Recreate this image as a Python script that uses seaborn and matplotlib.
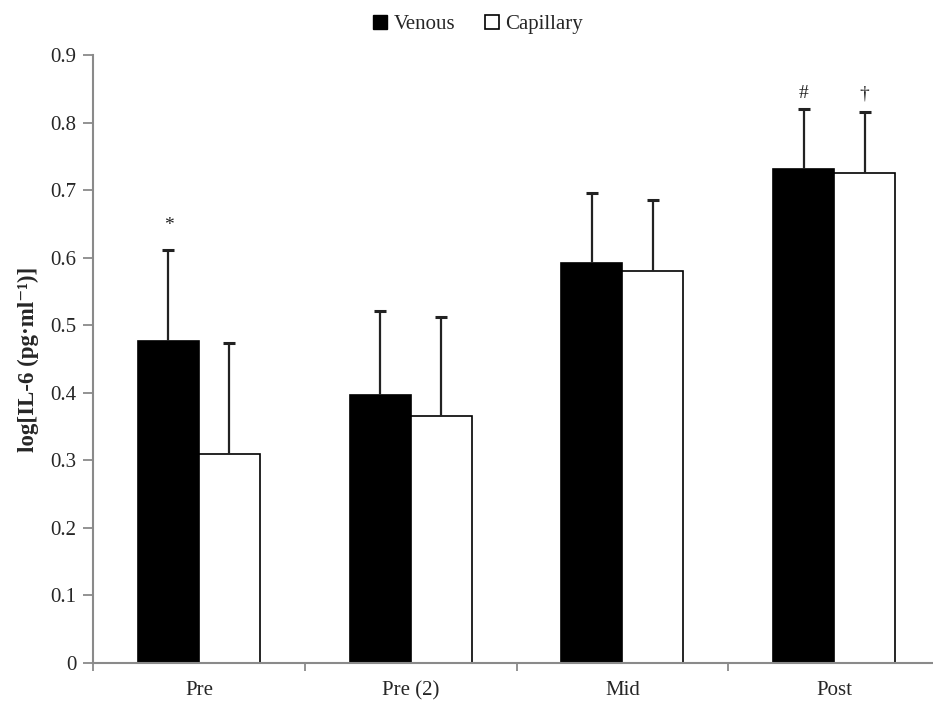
import matplotlib
matplotlib.use("Agg")
import matplotlib.pyplot as plt
import seaborn as sns
import pandas as pd
import numpy as np
from matplotlib.patches import Patch

categories = ["Pre", "Pre (2)", "Mid", "Post"]
series = ["Venous", "Capillary"]
venous = [0.476, 0.397, 0.5925, 0.731]
capillary = [0.310, 0.365, 0.581, 0.725]
venous_err = [0.136, 0.124, 0.1025, 0.089]
capillary_err = [0.163, 0.147, 0.105, 0.090]
annotations = [("Pre", "Venous", "*", 0.648), ("Post", "Venous", "#", 0.843), ("Post", "Capillary", "\u2020", 0.843)]
yticks = [0, 0.1, 0.2, 0.3, 0.4, 0.5, 0.6, 0.7, 0.8, 0.9]
ytick_labels = ["0", "0.1", "0.2", "0.3", "0.4", "0.5", "0.6", "0.7", "0.8", "0.9"]

df = pd.DataFrame({
    "cat": categories * 2,
    "series": [series[0]] * 4 + [series[1]] * 4,
    "val": venous + capillary,
    "err": venous_err + capillary_err,
})

sns.set_style("white")
plt.rcParams["font.family"] = ["Liberation Serif", "DejaVu Serif"]

fig = plt.figure(figsize=(9.33, 7.06), dpi=100)
ax = fig.add_axes([93 / 933, 43 / 706, (940 - 93) / 933, (663 - 55) / 706])

sns.barplot(data=df, x="cat", y="val", hue="series", order=categories, hue_order=series,
            palette=["black", "white"], edgecolor="black", linewidth=1.2,
            width=0.575, errorbar=None, ax=ax, legend=False)

patches = list(ax.patches)
centers = {}
k = 0
for s in series:
    for c in categories:
        p = patches[k]
        centers[(c, s)] = p.get_x() + p.get_width() / 2
        k += 1
for s, vals, errs in [("Venous", venous, venous_err), ("Capillary", capillary, capillary_err)]:
    xs = [centers[(c, s)] for c in categories]
    ax.errorbar(xs, vals, yerr=[np.zeros(len(errs)), errs], fmt="none", ecolor="#222222",
                elinewidth=1.6, capsize=0, zorder=1)
    tops = np.array(vals) + np.array(errs)
    ax.plot(xs, tops, linestyle="none", marker="_", markersize=8, markeredgewidth=2.2,
            color="#222222", zorder=1)

for c, s, txt, yv in annotations:
    ax.text(centers[(c, s)], yv, txt, ha="center", va="center", fontsize=14, color="#222222")

ax.set_ylim(0, 0.9)
ax.set_xlim(-0.5, 3.5)
ax.set_yticks(yticks)
ax.set_yticklabels(ytick_labels)
ax.set_xticks([-0.5, 0.5, 1.5, 2.5, 3.5])
ax.set_xticklabels([])
ax.set_xticks(range(len(categories)), minor=True)
ax.set_xticklabels(categories, minor=True)
ax.tick_params(axis="x", which="major", length=6, width=1.3, color="#8a8a8a", direction="out", bottom=True)
ax.tick_params(axis="x", which="minor", length=0, pad=13, labelsize=15)
ax.tick_params(axis="y", length=7, width=1.3, color="#8a8a8a", direction="out", left=True, labelsize=15, pad=5)
for side in ["top", "right"]:
    ax.spines[side].set_visible(False)
for side in ["left", "bottom"]:
    ax.spines[side].set_color("#8a8a8a")
    ax.spines[side].set_linewidth(1.5)
ax.set_xlabel("")
ax.set_ylabel("log[IL-6 (pg\u00b7ml\u207b\u00b9)]", fontsize=16.5, fontweight="bold", labelpad=8)

handles = [Patch(facecolor="black", edgecolor="black"), Patch(facecolor="white", edgecolor="black", linewidth=1.2)]
fig.legend(handles, series, loc="upper center", bbox_to_anchor=(478 / 933, 1.0), ncol=2, frameon=False,
           fontsize=15, handlelength=0.7, handleheight=0.7, handletextpad=0.3, columnspacing=1.4,
           borderaxespad=0.3)

fig.savefig("out.png", dpi=100)
